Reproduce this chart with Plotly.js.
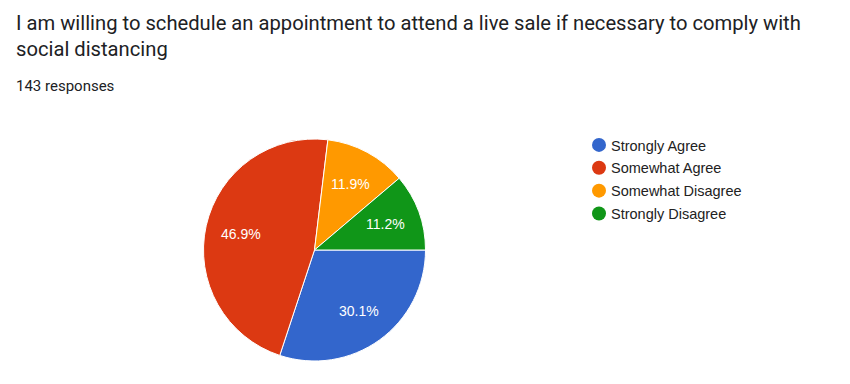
<!DOCTYPE html>
<html>
<head>
<meta charset="utf-8">
<script src="https://cdn.plot.ly/plotly-3.0.1.min.js"></script>
<style>html,body{margin:0;padding:0;background:#fff;}#chart{width:850px;height:384px;}</style>
</head>
<body>
<div id="chart"></div>
<script>
const categories = ["Strongly Agree", "Somewhat Agree", "Somewhat Disagree", "Strongly Disagree"];
const responses = [43, 67, 17, 16];
const colors = ["#3366cc", "#dc3912", "#ff9900", "#109618"];
const titleLine1 = "I am willing to schedule an appointment to attend a live sale if necessary to comply with";
const titleLine2 = "social distancing";
const subtitle = "143 responses";

const TITLE_FONT = "Roboto, Arial, sans-serif";
const CHART_FONT = "Arial, 'Liberation Sans', sans-serif";

const W = 850, H = 384;
const pieLeft = 203.5, pieRight = 425.5, pieTop = 139, pieBottom = 361;
const cx = (pieLeft + pieRight) / 2, cy = (pieTop + pieBottom) / 2, R = (pieRight - pieLeft) / 2;

const pie = {
  type: "pie",
  values: responses,
  labels: categories,
  sort: false,
  direction: "clockwise",
  rotation: 90,
  marker: {colors: colors, line: {color: "#ffffff", width: 1}},
  textinfo: "none",
  showlegend: false,
  hoverinfo: "label+percent",
  domain: {x: [pieLeft / W, pieRight / W], y: [1 - pieBottom / H, 1 - pieTop / H]}
};

// percentage labels placed along each slice's bisector (derived from the data)
const total = responses.reduce((a, b) => a + b, 0);
let cum = 0;
const labelAnnotations = responses.map((v) => {
  const mid = (cum + v / 2) / total * 2 * Math.PI;
  cum += v;
  const r = 0.68 * R;
  const px = cx + r * Math.cos(mid);
  const py = cy + r * Math.sin(mid);
  return {
    text: (v / total * 100).toFixed(1) + "%",
    xref: "paper", yref: "paper", x: px / W, y: 1 - py / H,
    xanchor: "center", yanchor: "middle", showarrow: false,
    font: {family: CHART_FONT, size: 14, color: "#ffffff"}
  };
});

const legendTraces = categories.map((c, i) => ({
  type: "scatter",
  mode: "markers",
  x: [null], y: [null],
  name: c,
  legendgroup: "g" + i,
  marker: {color: colors[i], size: 14, symbol: "circle"},
  showlegend: true,
  hoverinfo: "skip"
}));

const layout = {
  width: W, height: H,
  margin: {l: 0, r: 0, t: 0, b: 0},
  paper_bgcolor: "#ffffff",
  plot_bgcolor: "#ffffff",
  font: {family: TITLE_FONT, color: "#202124"},
  title: {
    text: titleLine1,
    x: 16 / W, xanchor: "left", xref: "paper",
    y: 1 - 23 / H, yanchor: "middle", yref: "paper",
    font: {family: TITLE_FONT, size: 20.2, color: "#202124"}
  },
  annotations: [
    {text: titleLine2, xref: "paper", yref: "paper", x: 14 / W, y: 1 - 49 / H,
     xanchor: "left", yanchor: "middle", showarrow: false,
     font: {family: TITLE_FONT, size: 20.2, color: "#202124"}},
    {text: subtitle, xref: "paper", yref: "paper", x: 14 / W, y: 1 - 86 / H,
     xanchor: "left", yanchor: "middle", showarrow: false,
     font: {family: TITLE_FONT, size: 15, color: "#202124"}}
  ].concat(labelAnnotations),
  xaxis: {visible: false, domain: [0.95, 1]},
  yaxis: {visible: false, domain: [0.95, 1]},
  showlegend: true,
  legend: {
    x: 579 / W, y: 1 - 129 / H, xanchor: "left", yanchor: "top",
    traceorder: "grouped", tracegroupgap: 1,
    font: {family: CHART_FONT, size: 14.5, color: "#222222"},
    bgcolor: "rgba(0,0,0,0)", itemclick: false, itemdoubleclick: false
  }
};

Plotly.newPlot("chart", [pie].concat(legendTraces), layout, {displayModeBar: false, staticPlot: true}).then(() => {
  document.querySelectorAll("#chart .legendtext").forEach((t) => t.setAttribute("x", 32));
});
</script>
</body>
</html>
